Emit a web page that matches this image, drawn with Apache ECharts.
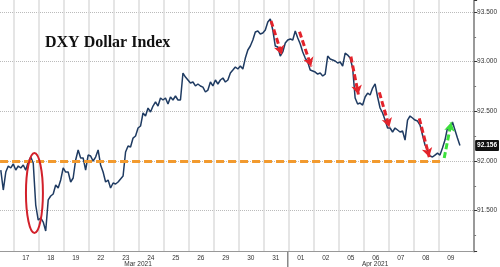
<!DOCTYPE html>
<html><head><meta charset="utf-8">
<script src="https://cdn.jsdelivr.net/npm/echarts@6/dist/echarts.min.js"></script>
<style>html,body{margin:0;padding:0;background:#fff}#c{width:500px;height:267px}</style>
</head><body><div id="c"></div>
<script>
// trading-day categories (Mar 17 ... Apr 09); Mar 16 is only partly visible, unlabelled
const dayLabels = ['17','18','19','22','23','24','25','26','29','30','31','01','02','05','06','07','08','09'];
const monthLabels = ['Mar 2021', 'Apr 2021'];
const yTicks = [91.5, 92.0, 92.5, 93.0, 93.5];
// intraday DXY readings, 10 per trading day (Mar 16 only its visible second half)
const day16 = [91.909, 91.708, 91.889, 91.950, 91.930];
const day17 = [91.970, 91.909, 91.950, 91.930, 91.960, 91.909, 91.990, 92.040, 91.980, 91.557];
const day18 = [91.406, 91.427, 91.386, 91.296, 91.608, 91.648, 91.668, 91.759, 91.728, 91.809];
const day19 = [91.930, 91.889, 91.889, 91.789, 91.829, 92.010, 92.111, 92.030, 92.030, 91.909];
const day22 = [92.060, 92.050, 92.000, 92.040, 92.111, 91.960, 91.889, 91.789, 91.809, 91.728];
const day23 = [91.779, 91.769, 91.789, 91.819, 91.849, 92.091, 92.151, 92.141, 92.231, 92.252];
const day24 = [92.332, 92.352, 92.483, 92.453, 92.533, 92.493, 92.553, 92.594, 92.553, 92.634];
const day25 = [92.614, 92.634, 92.573, 92.644, 92.614, 92.654, 92.614, 92.614, 92.885, 92.845];
const day26 = [92.815, 92.785, 92.795, 92.755, 92.775, 92.755, 92.744, 92.694, 92.714, 92.795];
const day29 = [92.755, 92.815, 92.775, 92.815, 92.835, 92.795, 92.815, 92.885, 92.915, 92.946];
const day30 = [92.926, 92.956, 92.926, 93.036, 93.117, 93.157, 93.217, 93.298, 93.308, 93.278];
const day31 = [93.288, 93.318, 93.398, 93.429, 93.318, 93.157, 93.147, 93.056, 93.097, 93.187];
const apr01 = [93.217, 93.227, 93.217, 93.308, 93.237, 93.177, 93.097, 93.036, 92.996, 92.915];
const apr02 = [92.905, 92.895, 92.875, 92.885, 92.855, 92.875, 93.056, 93.026, 93.016, 93.006];
const apr05 = [92.986, 92.996, 92.956, 93.086, 93.066, 93.036, 92.936, 92.634, 92.573, 92.583];
const apr06 = [92.563, 92.644, 92.684, 92.664, 92.734, 92.775, 92.644, 92.533, 92.483, 92.412];
const apr07 = [92.332, 92.332, 92.292, 92.332, 92.312, 92.292, 92.302, 92.211, 92.412, 92.453];
const apr08 = [92.433, 92.412, 92.402, 92.362, 92.262, 92.161, 92.111, 92.050, 92.040, 92.060];
const apr09 = [92.080, 92.060, 92.131, 92.211, 92.332, 92.312, 92.392, 92.312, 92.231, 92.156];
const days = [day16, day17, day18, day19, day22, day23, day24, day25, day26, day29, day30, day31,
              apr01, apr02, apr05, apr06, apr07, apr08, apr09];
// annotations (x in trading-day units from Mar 16 = 0, y in index points)
const supportLevel = 92.0;
const supportSpan = [0.47, 18.15];
const redArrows = [
  [[11.33, 93.41], [11.76, 93.07]],
  [[12.47, 93.30], [12.94, 92.95]],
  [[14.53, 93.05], [14.83, 92.67]],
  [[15.67, 92.69], [16.07, 92.34]],
  [[17.27, 92.43], [17.67, 92.04]]
];
const greenArrow = [[18.27, 92.03], [18.55, 92.39]];
const ellipseCenter = [1.848, 91.678];
const ellipseRadius = [0.34, 0.402];

const series = [];
days.forEach((arr, d) => {
  const start = d === 0 ? 0.5 : d;
  arr.forEach((v, k) => series.push([+(start + k * 0.1).toFixed(2), v]));
});
const lastVal = series[series.length - 1][1];

const markData = [];
markData.push([
  {coord: [supportSpan[0], supportLevel], symbol: 'none',
   lineStyle: {color: '#F29A2E', width: 3, type: [8, 4]}},
  {coord: [supportSpan[1], supportLevel], symbol: 'none'}
]);
redArrows.forEach(a => markData.push([
  {coord: a[0], symbol: 'none', lineStyle: {color: '#E3232B', width: 3, type: [6, 3]}},
  {coord: a[1], symbol: 'arrow', symbolSize: [8, 9]}
]));
markData.push([
  {coord: greenArrow[0], symbol: 'none', lineStyle: {color: '#3CE03C', width: 3, type: [6, 3]}},
  {coord: greenArrow[1], symbol: 'arrow', symbolSize: [8, 9]}
]);
markData.push({
  yAxis: lastVal, symbol: 'none',
  lineStyle: {color: 'rgba(0,0,0,0)', width: 0},
  label: {show: true, position: 'end', distance: 1, formatter: lastVal.toFixed(3),
          backgroundColor: '#111', color: '#fff', fontSize: 6.5, fontWeight: 'bold',
          padding: [2, 2, 2, 2], borderRadius: 1}
});

const option = {
  animation: false,
  backgroundColor: '#fff',
  textStyle: {fontFamily: 'Liberation Sans, Arial, sans-serif'},
  grid: [
    {left: 0, right: 25, top: 0, bottom: 15.3},
    {left: 13.3, right: 36.7, top: 0, bottom: 15.3}
  ],
  xAxis: [
    {gridIndex: 0, type: 'value', min: 0.468, max: 19.468,
     axisLine: {show: true, lineStyle: {color: '#999', width: 1}},
     axisTick: {show: false}, axisLabel: {show: false}, splitLine: {show: false}},
    {gridIndex: 1, type: 'category', data: dayLabels, boundaryGap: true,
     axisLine: {show: false}, axisTick: {show: false},
     axisLabel: {fontSize: 6.5, color: '#333', margin: 3, interval: 0},
     splitLine: {show: true, interval: 0, showMinLine: true, showMaxLine: false,
                 lineStyle: {color: '#dcdcdc', width: 1.5}}}
  ],
  yAxis: [
    {gridIndex: 0, type: 'value', position: 'right', min: 91.0875, max: 93.62, splitNumber: 5,
     axisLine: {show: true, lineStyle: {color: '#777', width: 1.5}},
     axisTick: {show: true, length: 3, lineStyle: {color: '#333'}},
     minorTick: {show: true, splitNumber: 2, length: 2, lineStyle: {color: '#777'}},
     axisLabel: {fontSize: 6.5, color: '#333', margin: 3, showMinLabel: false, showMaxLabel: false,
                 formatter: v => yTicks.some(t => Math.abs(t - v) < 1e-6) ? v.toFixed(3) : ''},
     splitLine: {show: true, showMinLine: false, showMaxLine: false,
                 lineStyle: {color: '#bbb', type: 'dotted', width: 1}}},
    {gridIndex: 1, type: 'value', show: false, min: 0, max: 1}
  ],
  series: [{
    type: 'line', xAxisIndex: 0, yAxisIndex: 0, data: series, showSymbol: false,
    lineStyle: {color: '#1f3b62', width: 1.5}, z: 3,
    markLine: {silent: true, animation: false, precision: 3, data: markData,
               label: {show: false}}
  }]
};

const chart = echarts.init(document.getElementById('c'), null, {renderer: 'canvas'});
chart.setOption(option);

const px = p => chart.convertToPixel({gridIndex: 0}, p);
const c = px(ellipseCenter);
const ex = px([ellipseCenter[0] + ellipseRadius[0], ellipseCenter[1] + ellipseRadius[1]]);
const sep = px([12, 91.0875]);
const marPos = px([6, 91.0875]);
const aprPos = px([15.5, 91.0875]);
chart.setOption({
  graphic: [
    {type: 'text', x: 45, y: 43, z: 10,
     style: {text: 'DXY Dollar Index', font: 'bold 16px "Liberation Serif", "Times New Roman", serif',
             fill: '#111', textAlign: 'left', textVerticalAlign: 'middle', align: 'left', verticalAlign: 'middle'}},
    {type: 'ellipse', z: 10, shape: {cx: c[0], cy: c[1], rx: ex[0] - c[0], ry: c[1] - ex[1]},
     style: {fill: 'none', stroke: '#D2202A', lineWidth: 2}},
    {type: 'line', z: 10, shape: {x1: sep[0], y1: sep[1], x2: sep[0], y2: 267},
     style: {stroke: '#888', lineWidth: 1.5}},
    {type: 'text', x: marPos[0], y: 264, z: 10,
     style: {text: monthLabels[0], font: '6.5px "Liberation Sans", Arial, sans-serif', fill: '#333',
             textAlign: 'center', textVerticalAlign: 'middle', align: 'center', verticalAlign: 'middle'}},
    {type: 'text', x: aprPos[0], y: 264, z: 10,
     style: {text: monthLabels[1], font: '6.5px "Liberation Sans", Arial, sans-serif', fill: '#333',
             textAlign: 'center', textVerticalAlign: 'middle', align: 'center', verticalAlign: 'middle'}}
  ]
});
</script></body></html>
